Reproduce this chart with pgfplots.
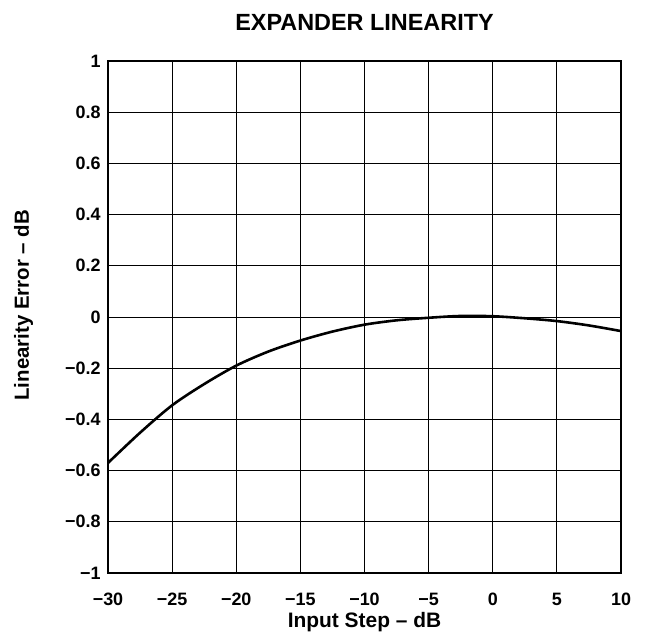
\documentclass[border=0pt]{standalone}
\usepackage{fontspec}
\setmainfont{Liberation Sans}
\usepackage{pgfplots}
\pgfplotsset{compat=1.18}
\begin{document}
\begin{tikzpicture}
\path[use as bounding box] (-108bp,-64bp) rectangle (538bp,573bp);
\begin{axis}[
  at={(0,0)}, anchor=south west,
  scale only axis, width=513bp, height=512bp,
  xmin=-30, xmax=10, ymin=-1, ymax=1,
  xtick={-30,-25,...,10},
  xticklabels={−30,−25,−20,−15,−10,−5,0,5,10},
  ytick={-1,-0.8,...,1.01},
  yticklabels={−1,−0.8,−0.6,−0.4,−0.2,0,0.2,0.4,0.6,0.8,1},
  major tick length=0pt,
  grid=major,
  major grid style={black, line width=0.8pt},
  axis line style={black, line width=1.8pt},
  tick label style={font=\bfseries\fontsize{18}{21}\selectfont},
  xticklabel style={anchor=base, yshift=-32bp},
  yticklabel style={anchor=east, xshift=-4bp},
  title={EXPANDER LINEARITY},
  title style={font=\bfseries\fontsize{23.5}{27}\selectfont, at={(0.5,1.0586)}, anchor=base, yshift=0pt},
  every axis title shift=0pt,
  xlabel={Input Step – dB},
  xlabel style={font=\bfseries\fontsize{21}{25}\selectfont, at={(0.5,-0.1074)}, anchor=base},
  ylabel={Linearity Error – dB},
  ylabel style={font=\bfseries\fontsize{20.5}{24}\selectfont, at={(-0.154,0.523)}, anchor=base},
]
\addplot[black, line width=2.6pt, smooth] coordinates {
(-30,-0.57) (-27.5,-0.452) (-25,-0.345) (-22.5,-0.262) (-20,-0.19)
(-17.5,-0.135) (-15,-0.092) (-12.5,-0.057) (-10,-0.03) (-7.5,-0.013) (-5,-0.003)
(-2.5,0.004) (0,0.003) (2.5,-0.005) (5,-0.016) (7.5,-0.033) (10,-0.055)
};
\end{axis}
\end{tikzpicture}
\end{document}
